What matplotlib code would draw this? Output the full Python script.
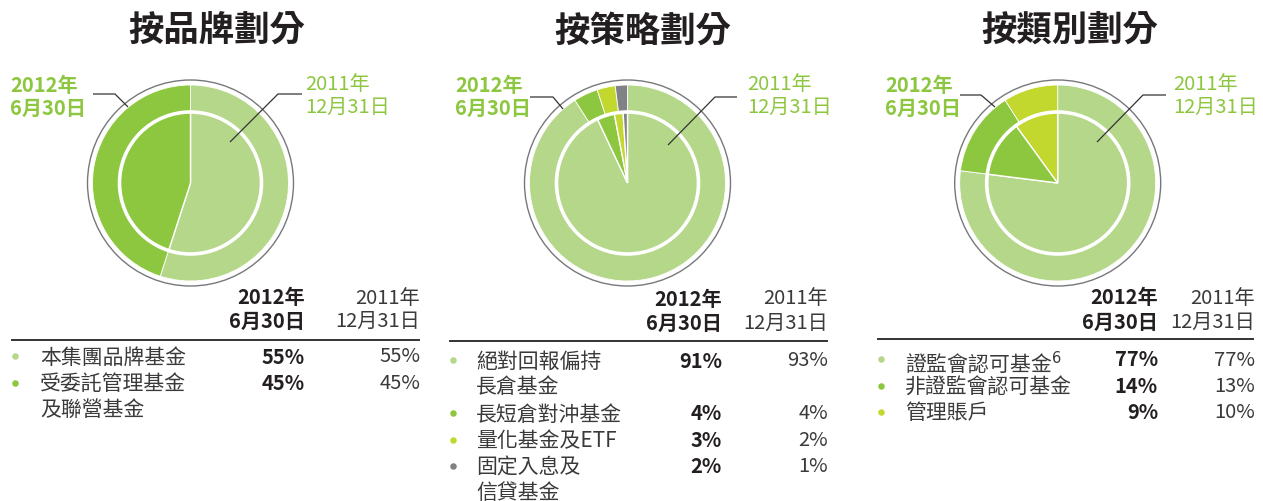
import matplotlib
matplotlib.use("Agg")
import matplotlib.pyplot as plt
from matplotlib.patches import Circle

plt.rcParams['font.family'] = ['Noto Sans CJK TC', 'DejaVu Sans']

W, H = 1263, 502

# ---------------- data ----------------
titles = ["按品牌劃分", "按策略劃分", "按類別劃分"]

brand_labels = ["本集團品牌基金", "受委託管理基金\n及聯營基金"]
brand_2012 = [55, 45]
brand_2011 = [55, 45]

strategy_labels = ["絕對回報偏持\n長倉基金", "長短倉對沖基金", "量化基金及ETF", "固定入息及\n信貸基金"]
strategy_2012 = [91, 4, 3, 2]
strategy_2011 = [93, 4, 2, 1]

category_labels = ["證監會認可基金$^{6}$", "非證監會認可基金", "管理賬戶"]
category_2012 = [77, 14, 9]
category_2011 = [77, 13, 10]

header_2012 = "2012年\n6月30日"
header_2011 = "2011年\n12月31日"

LIGHT = "#b5d789"
MID = "#8dc63f"
YEL = "#c2d82e"
GRAY = "#808285"
palette_brand = [LIGHT, MID]
palette_strategy = [LIGHT, MID, YEL, GRAY]
palette_category = [LIGHT, MID, YEL]
TXT = "#3a3a3a"
DARK = "#231f20"

fig = plt.figure(figsize=(W / 100, H / 100), dpi=100)
ax = fig.add_axes([0, 0, 1, 1])


def Y(y):
    return H - y


panels = [
    dict(title=titles[0], tx=217, cx=190.5, cy=184,
         labels=brand_labels, v12=brand_2012, v11=brand_2011, colors=palette_brand,
         left_text_x=10, left_line=[(93, 95), (115, 95), (128, 108)],
         right_text_x=305, right_line=[(302, 95), (278, 95), (230, 143)],
         tab_line=(12, 419, 341), bullet_x=15, text_x=40, col1=305, col2=420,
         rows=[357, 384], hdr_y=(298, 321)),
    dict(title=titles[1], tx=643, cx=627.5, cy=184,
         labels=strategy_labels, v12=strategy_2012, v11=strategy_2011, colors=palette_strategy,
         left_text_x=455, left_line=[(530, 98), (553, 98), (563, 110)],
         right_text_x=747, right_line=[(737, 98), (715, 98), (668, 146)],
         tab_line=(450, 827, 342), bullet_x=453, text_x=476, col1=722, col2=828,
         rows=[361, 414, 441, 467], hdr_y=(299, 323)),
    dict(title=titles[2], tx=1070, cx=1057.7, cy=184,
         labels=category_labels, v12=category_2012, v11=category_2011, colors=palette_category,
         left_text_x=885, left_line=[(960, 96), (981, 96), (995, 108)],
         right_text_x=1173, right_line=[(1166, 96), (1143, 96), (1097, 143)],
         tab_line=(878, 1253, 340), bullet_x=881, text_x=905, col1=1158, col2=1255,
         rows=[360, 387, 413], hdr_y=(298, 322)),
]

R_OUT = 98
R_IN = 71
R_RIM = 103

for p in panels:
    c = (p['cx'], Y(p['cy']))
    ax.pie(p['v12'], radius=R_OUT, center=c, startangle=90, counterclock=False,
           colors=p['colors'], wedgeprops=dict(edgecolor='white', linewidth=0.6))
    ax.pie(p['v11'], radius=R_IN, center=c, startangle=90, counterclock=False,
           colors=p['colors'], wedgeprops=dict(edgecolor='white', linewidth=1.0))
    ax.add_patch(Circle(c, R_IN, fill=False, edgecolor='white', linewidth=2.6, zorder=5))
    ax.add_patch(Circle(c, R_RIM, fill=False, edgecolor='#77787b', linewidth=1.0, zorder=5))

    # title
    ax.text(p['tx'], Y(31), p['title'], ha='center', va='center', fontsize=25.5,
            fontweight='bold', color=DARK)

    # callouts
    ax.text(p['left_text_x'], Y(97), header_2012, ha='left', va='center', fontsize=14.5,
            fontweight='bold', color=MID, linespacing=1.12)
    ax.text(p['right_text_x'], Y(96), header_2011, ha='left', va='center', fontsize=14.5,
            color=MID, linespacing=1.12)
    for pts in (p['left_line'], p['right_line']):
        ax.plot([q[0] for q in pts], [Y(q[1]) for q in pts], color='#333333',
                linewidth=0.9, zorder=6, solid_capstyle='butt')

    # table header
    ax.text(p['col1'], Y(p['hdr_y'][0]), "2012年", ha='right', va='center', fontsize=14.5,
            fontweight='bold', color=DARK)
    ax.text(p['col1'], Y(p['hdr_y'][1]), "6月30日", ha='right', va='center', fontsize=14.5,
            fontweight='bold', color=DARK)
    ax.text(p['col2'], Y(p['hdr_y'][0]), "2011年", ha='right', va='center', fontsize=14.5,
            color=TXT)
    ax.text(p['col2'], Y(p['hdr_y'][1]), "12月31日", ha='right', va='center', fontsize=14.5,
            color=TXT)
    x0, x1, ly = p['tab_line']
    ax.plot([x0, x1], [Y(ly), Y(ly)], color='#333333', linewidth=1.4)

    # rows
    for lab, a, b, col, ry in zip(p['labels'], p['v12'], p['v11'], p['colors'], p['rows']):
        ax.scatter([p['bullet_x']], [Y(ry)], s=22, color=col, linewidths=0, zorder=6)
        ax.text(p['text_x'], Y(ry - 10.5), lab, ha='left', va='top', fontsize=15,
                color=TXT, linespacing=1.22)
        ax.text(p['col1'], Y(ry), f"{a}%", ha='right', va='center', fontsize=14.5,
                fontweight='bold', color=DARK)
        ax.text(p['col2'], Y(ry), f"{b}%", ha='right', va='center', fontsize=14.5,
                color=TXT)

ax.set_xlim(0, W)
ax.set_ylim(0, H)
ax.set_aspect('auto')
ax.axis('off')

fig.savefig("out.png", dpi=100)
